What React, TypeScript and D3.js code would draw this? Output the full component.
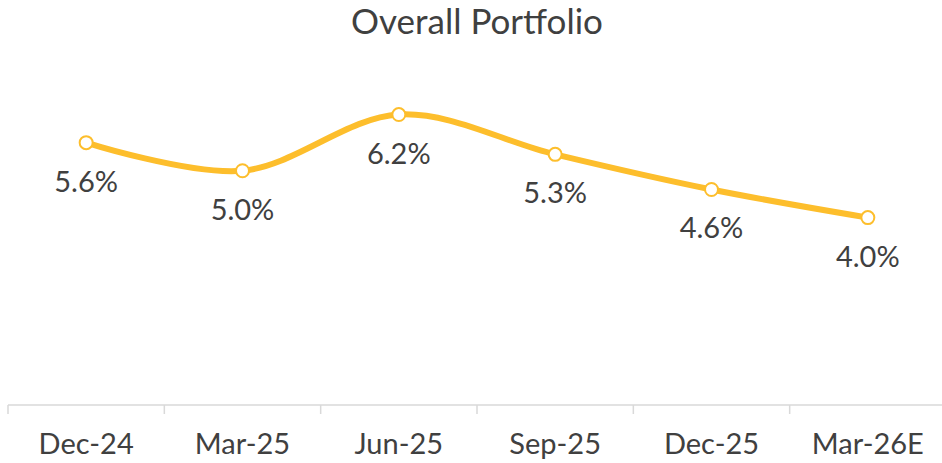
import React from "react";
import * as d3 from "d3";

const title = "Overall Portfolio";
const categories = ["Dec-24", "Mar-25", "Jun-25", "Sep-25", "Dec-25", "Mar-26E"];
const values = [5.6, 5.0, 6.2, 5.35, 4.6, 4.0];

const W = 942;
const H = 463;
const LINE_COLOR = "#FDBE2C";
const TEXT_COLOR = "#404040";
const AXIS_COLOR = "#D9D9D9";
const FONT = "Lato, 'Open Sans', sans-serif";

export default function App() {
  const x = d3.scaleBand<string>().domain(categories).range([8, 946]).padding(0);
  const y = d3.scaleLinear().domain([0, 7]).range([405, 405 - 7 * 46.85]);
  const cx = (c: string) => (x(c) as number) + x.bandwidth() / 2;
  const data = categories.map((c, i) => ({ c, v: values[i] }));
  const line = d3
    .line<{ c: string; v: number }>()
    .x((d) => cx(d.c))
    .y((d) => y(d.v))
    .curve(d3.curveCardinal.tension(0));
  const fmt = d3.format(".1f");
  const axisY = y(0);
  const tickXs = [...categories.map((c) => x(c) as number), x.range()[1]];

  return (
    <svg
      width={W}
      height={H}
      style={{ position: "absolute", left: 0, top: 0, background: "#fff" }}
      fontFamily={FONT}
    >
      <text x={477} y={34} textAnchor="middle" fontSize={35} fill={TEXT_COLOR}>
        {title}
      </text>
      <line x1={8} x2={W} y1={axisY} y2={axisY} stroke={AXIS_COLOR} strokeWidth={1.5} />
      {tickXs.map((t, i) => (
        <line key={i} x1={t} x2={t} y1={axisY} y2={axisY + 9} stroke={AXIS_COLOR} strokeWidth={1.5} />
      ))}
      {categories.map((c) => (
        <text key={c} x={cx(c)} y={454} textAnchor="middle" fontSize={29} fill={TEXT_COLOR}>
          {c}
        </text>
      ))}
      <path d={line(data) || ""} fill="none" stroke={LINE_COLOR} strokeWidth={6} strokeLinecap="round" />
      {data.map((d) => (
        <circle key={d.c} cx={cx(d.c)} cy={y(d.v)} r={6.5} fill="#fff" stroke={LINE_COLOR} strokeWidth={2} />
      ))}
      {data.map((d) => (
        <text key={d.c + "l"} x={cx(d.c)} y={y(d.v) + 49} textAnchor="middle" fontSize={29} fill={TEXT_COLOR}>
          {fmt(d.v) + "%"}
        </text>
      ))}
    </svg>
  );
}
